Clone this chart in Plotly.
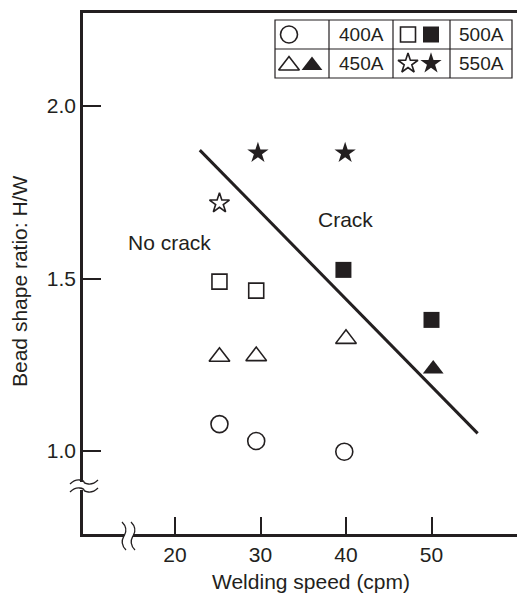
import plotly.graph_objects as go

# ---------------- data ----------------
speed_400 = [25.2, 29.5, 39.8]
ratio_400 = [1.078, 1.029, 0.998]
speed_450_open = [25.2, 29.5, 40.0]
ratio_450_open = [1.273, 1.275, 1.325]
speed_450_fill = [50.2]
ratio_450_fill = [1.238]
speed_500_open = [25.2, 29.5]
ratio_500_open = [1.491, 1.465]
speed_500_fill = [39.7, 50.0]
ratio_500_fill = [1.525, 1.380]
speed_550_open = [25.2]
ratio_550_open = [1.718]
speed_550_fill = [29.7, 39.9]
ratio_550_fill = [1.864, 1.864]
boundary_speed = [22.9, 55.4]
boundary_ratio = [1.872, 1.051]
x_ticks = [20, 30, 40, 50]
y_ticks = [1.0, 1.5, 2.0]
legend_labels = ["400A", "450A", "500A", "550A"]
region_labels = ["No crack", "Crack"]
region_speed = [19.4, 39.9]
region_ratio = [1.603, 1.672]

# ---------------- layout constants ----------------
W, H = 517, 597
L, R, T, B = 83, 0, 13, 63
PW, PH = W - L - R, H - T - B
INK = "#231f20"
FONT = "Liberation Sans, Arial, Helvetica, sans-serif"
FS = 21


def PX(x):
    return (x - L) / PW


def PY(y):
    return (H - B - y) / PH


def path(cmd):
    # cmd: list of (letter, [(x,y),...]) in pixel coordinates -> paper path
    s = ""
    for c, pts in cmd:
        s += c + " " + " ".join(f"{PX(x):.5f},{PY(y):.5f}" for x, y in pts) + " "
    return s.strip()


fig = go.Figure()


def add(x, y, symbol, size, filled, xa="x", ya="y"):
    fig.add_trace(go.Scatter(
        x=x, y=y, mode="markers", xaxis=xa, yaxis=ya, cliponaxis=False,
        marker=dict(symbol=symbol, size=size,
                    color=INK if filled else "white",
                    line=dict(color=INK, width=0 if filled else 1.6)),
        showlegend=False, hoverinfo="skip"))


add(speed_400, ratio_400, "circle", 17, False)
add(speed_450_open, ratio_450_open, "triangle-up", 18, False)
add(speed_450_fill, ratio_450_fill, "triangle-up", 18, True)
add(speed_500_open, ratio_500_open, "square", 15, False)
add(speed_500_fill, ratio_500_fill, "square", 16, True)
add(speed_550_open, ratio_550_open, "star", 15, False)
add(speed_550_fill, ratio_550_fill, "star", 16, True)

fig.add_trace(go.Scatter(x=boundary_speed, y=boundary_ratio, mode="lines",
                         line=dict(color=INK, width=3), showlegend=False,
                         hoverinfo="skip"))

# ---------------- legend table ----------------
tab_x = [275, 329, 393, 450, 512]
tab_y = [20, 49, 78]
shapes = []
shapes.append(dict(type="rect", xref="paper", yref="paper",
                   x0=PX(tab_x[0]), x1=PX(tab_x[-1]), y0=PY(tab_y[-1]), y1=PY(tab_y[0]),
                   line=dict(color=INK, width=1.2), fillcolor="rgba(0,0,0,0)",
                   layer="above"))
for xv in tab_x[1:-1]:
    shapes.append(dict(type="line", xref="paper", yref="paper",
                       x0=PX(xv), x1=PX(xv), y0=PY(tab_y[-1]), y1=PY(tab_y[0]),
                       line=dict(color=INK, width=1.2), layer="above"))
shapes.append(dict(type="line", xref="paper", yref="paper",
                   x0=PX(tab_x[0]), x1=PX(tab_x[-1]), y0=PY(tab_y[1]), y1=PY(tab_y[1]),
                   line=dict(color=INK, width=1.2), layer="above"))

row_c = [(tab_y[0] + tab_y[1]) / 2, (tab_y[1] + tab_y[2]) / 2]
c1 = tab_x[0] + 14
c1b = tab_x[0] + 37
c3 = tab_x[2] + 15
c3b = tab_x[2] + 38
add([c1], [row_c[0]], "circle", 17, False, "x2", "y2")
add([c1], [row_c[1] + 2], "triangle-up", 18, False, "x2", "y2")
add([c1b], [row_c[1] + 2], "triangle-up", 18, True, "x2", "y2")
add([c3], [row_c[0]], "square", 15, False, "x2", "y2")
add([c3b], [row_c[0]], "square", 16, True, "x2", "y2")
add([c3], [row_c[1]], "star", 15, False, "x2", "y2")
add([c3b], [row_c[1]], "star", 16, True, "x2", "y2")

annotations = []
lab_pos = [((tab_x[1] + tab_x[2]) / 2, row_c[0]), ((tab_x[1] + tab_x[2]) / 2, row_c[1]),
           ((tab_x[3] + tab_x[4]) / 2, row_c[0]), ((tab_x[3] + tab_x[4]) / 2, row_c[1])]
order = [0, 1, 2, 3]
for lab, (lx, ly) in zip(legend_labels, lab_pos):
    annotations.append(dict(text=lab, xref="paper", yref="paper", x=PX(lx), y=PY(ly),
                            showarrow=False, xanchor="center", yanchor="middle",
                            font=dict(family=FONT, size=19, color=INK)))

for lab, sx, sy in zip(region_labels, region_speed, region_ratio):
    annotations.append(dict(text=lab, x=sx, y=sy, xref="x", yref="y", showarrow=False,
                            xanchor="center", yanchor="middle",
                            font=dict(family=FONT, size=FS, color=INK)))

annotations.append(dict(text="Welding speed (cpm)", xref="paper", yref="paper",
                        x=PX(311), y=PY(581), showarrow=False, xanchor="center",
                        yanchor="middle", font=dict(family=FONT, size=FS, color=INK)))
annotations.append(dict(text="Bead shape ratio: H/W", xref="paper", yref="paper",
                        x=PX(19), y=PY(282), showarrow=False, xanchor="center",
                        yanchor="middle", textangle=-90,
                        font=dict(family=FONT, size=FS, color=INK)))

# ---------------- axis breaks ----------------
shapes.append(dict(type="rect", xref="paper", yref="paper", x0=PX(79), x1=PX(88),
                   y0=PY(490), y1=PY(482), line=dict(width=0), fillcolor="white",
                   layer="above"))
for yb in (482, 490):
    shapes.append(dict(type="path", xref="paper", yref="paper", layer="above",
                       path=path([("M", [(70, yb + 2)]),
                                  ("C", [(77, yb - 5), (84, yb - 1), (84, yb)]),
                                  ("C", [(84, yb + 1), (91, yb + 5), (98, yb - 2)])]),
                       line=dict(color=INK, width=1.3)))
shapes.append(dict(type="rect", xref="paper", yref="paper", x0=PX(124), x1=PX(133),
                   y0=PY(538), y1=PY(530), line=dict(width=0), fillcolor="white",
                   layer="above"))
for xb in (124, 133):
    shapes.append(dict(type="path", xref="paper", yref="paper", layer="above",
                       path=path([("M", [(xb - 2, 522)]),
                                  ("C", [(xb + 5, 529), (xb + 1, 534), (xb, 536)]),
                                  ("C", [(xb - 1, 538), (xb - 5, 543), (xb + 2, 550)])]),
                       line=dict(color=INK, width=1.3)))

fig.update_layout(
    width=W, height=H, margin=dict(l=L, r=R, t=T, b=B, pad=0),
    paper_bgcolor="white", plot_bgcolor="white",
    font=dict(family=FONT, size=FS, color=INK),
    shapes=shapes, annotations=annotations,
    xaxis=dict(range=[9.24, 60.0], tickvals=x_ticks, ticktext=[str(v) for v in x_ticks],
               ticks="inside", ticklen=17, tickwidth=1.5, tickcolor=INK,
               showline=True, linecolor=INK, linewidth=2.5, mirror=True,
               showgrid=False, zeroline=False, tickfont=dict(size=FS, color=INK)),
    yaxis=dict(range=[0.7594, 2.2696], tickvals=y_ticks, ticktext=[f"{v:.1f}" for v in y_ticks],
               ticks="inside", ticklen=18, tickwidth=1.5, tickcolor=INK,
               showline=True, linecolor=INK, linewidth=2.5, mirror=False,
               showgrid=False, zeroline=False, tickfont=dict(size=FS, color=INK)),
    xaxis2=dict(domain=[PX(tab_x[0]), PX(tab_x[-1])], range=[tab_x[0], tab_x[-1]],
                anchor="y2", visible=False, showgrid=False, zeroline=False),
    yaxis2=dict(domain=[PY(tab_y[-1]), PY(tab_y[0])], range=[tab_y[-1], tab_y[0]],
                anchor="x2", visible=False, showgrid=False, zeroline=False),
)

fig.write_html("out.html")
